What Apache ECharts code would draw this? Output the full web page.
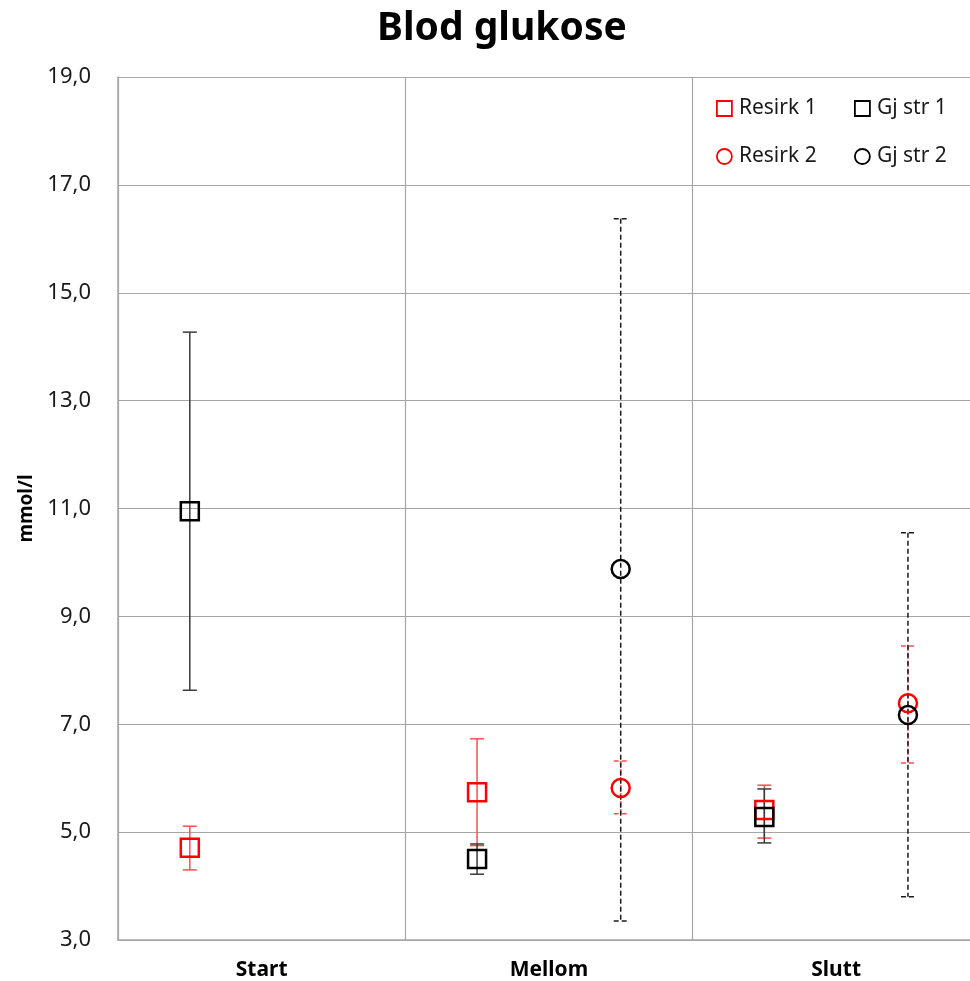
<!DOCTYPE html>
<html>
<head>
<meta charset="utf-8">
<script src="https://cdn.jsdelivr.net/npm/echarts@6/dist/echarts.min.js"></script>
<style>
html,body{margin:0;padding:0;background:#fff;}
#chart{width:970px;height:981px;}
</style>
</head>
<body>
<div id="chart"></div>
<script>
const categories = ['Start', 'Mellom', 'Slutt'];
const yTicks = [3, 5, 7, 9, 11, 13, 15, 17, 19];

const resirk1 = [4.71, 5.74, 5.41];
const resirk1Low = [4.30, 4.75, 4.89];
const resirk1High = [5.11, 6.73, 5.87];

const gjstr1 = [10.95, 4.50, 5.28];
const gjstr1Low = [7.63, 4.22, 4.80];
const gjstr1High = [14.27, 4.78, 5.80];

const resirk2 = [null, 5.82, 7.39];
const resirk2Low = [null, 5.34, 6.28];
const resirk2High = [null, 6.32, 8.45];

const gjstr2 = [null, 9.88, 7.17];
const gjstr2Low = [null, 3.35, 3.80];
const gjstr2High = [null, 16.37, 10.55];

const FONT = 'Noto Sans';
const GRID = '#a6a6a6';
// the plot area of the original is cut at the right edge of the picture
const X_VISIBLE_MAX = 2.966;

function pts(vals, off) {
  return vals.map((v, i) => [i + off, v]);
}
function errs(lo, hi, off) {
  return lo.map((l, i) => [i + off, l, hi[i]]);
}

function errSeries(name, data, color, dashed) {
  return {
    name: name,
    type: 'custom',
    xAxisIndex: 0,
    yAxisIndex: 0,
    data: data,
    silent: true,
    renderItem: function (params, api) {
      const lo = api.value(1), hi = api.value(2);
      if (lo == null || hi == null || isNaN(lo) || isNaN(hi)) return;
      const x = api.value(0);
      const a = api.coord([x, hi]);
      const b = api.coord([x, lo]);
      const cw = 7;
      const style = {stroke: color, lineWidth: 1.5, lineDash: dashed ? [5, 3] : null, fill: null};
      return {
        type: 'group',
        children: [
          {type: 'line', shape: {x1: a[0], y1: a[1], x2: b[0], y2: b[1]}, style: style},
          {type: 'line', shape: {x1: a[0] - cw, y1: a[1], x2: a[0] + cw, y2: a[1]}, style: style},
          {type: 'line', shape: {x1: b[0] - cw, y1: b[1], x2: b[0] + cw, y2: b[1]}, style: style}
        ]
      };
    }
  };
}

function markSeries(name, data, symbol, color) {
  return {
    name: name,
    type: 'scatter',
    xAxisIndex: 0,
    yAxisIndex: 0,
    data: data,
    symbol: symbol,
    symbolSize: 18,
    itemStyle: {color: 'transparent', borderColor: color, borderWidth: 2.5, opacity: 1},
    emphasis: {disabled: true}
  };
}

const legendText = {fontFamily: FONT, fontSize: 21, color: '#1a1a1a', padding: [0, 0, 0, 2]};

const chart = echarts.init(document.getElementById('chart'));
chart.setOption({
  animation: false,
  backgroundColor: '#ffffff',
  title: {
    text: 'Blod glukose',
    left: 372,
    top: 4,
    textStyle: {fontFamily: FONT, fontWeight: 'bold', fontSize: 39, color: '#000'}
  },
  legend: [
    {
      data: ['Resirk 1', 'Resirk 2'],
      orient: 'vertical',
      left: 711,
      top: 93,
      itemWidth: 15,
      itemHeight: 15,
      itemGap: 27,
      itemStyle: {borderWidth: 1.8},
      textStyle: legendText
    },
    {
      data: ['Gj str 1', 'Gj str 2'],
      orient: 'vertical',
      left: 849,
      top: 93,
      itemWidth: 15,
      itemHeight: 15,
      itemGap: 27,
      itemStyle: {borderWidth: 1.8},
      textStyle: legendText
    }
  ],
  grid: {left: 118, top: 77, right: 0, bottom: 41, containLabel: false},
  xAxis: [
    {
      type: 'value',
      min: 0,
      max: X_VISIBLE_MAX,
      interval: 1,
      position: 'bottom',
      axisLine: {show: true, onZero: false, lineStyle: {color: GRID, width: 1.5}},
      axisTick: {show: false},
      axisLabel: {show: false},
      splitLine: {show: true, showMaxLine: false, lineStyle: {color: GRID, width: 1.2}}
    },
    {
      type: 'value',
      min: 0,
      max: X_VISIBLE_MAX,
      interval: 0.5,
      position: 'bottom',
      axisLine: {show: false},
      axisTick: {show: false},
      splitLine: {show: false},
      axisLabel: {
        margin: 20,
        showMaxLabel: false,
        fontFamily: FONT, fontWeight: 'bold', fontSize: 21, color: '#000',
        formatter: function (v) {
          const k = Math.floor(v);
          return Math.abs(v - k - 0.5) < 1e-6 && categories[k] ? categories[k] : '';
        }
      }
    }
  ],
  yAxis: {
    type: 'value',
    min: yTicks[0],
    max: yTicks[yTicks.length - 1],
    interval: 2,
    name: 'mmol/l',
    nameLocation: 'middle',
    nameGap: 82,
    nameRotate: 90,
    nameTextStyle: {fontFamily: FONT, fontWeight: 'bold', fontSize: 19, color: '#000'},
    axisLine: {show: true, lineStyle: {color: GRID, width: 1.5}},
    axisTick: {show: false},
    axisLabel: {
      margin: 27,
      fontFamily: FONT,
      fontSize: 22,
      color: '#1a1a1a',
      formatter: v => v.toFixed(1).replace('.', ',')
    },
    splitLine: {show: true, lineStyle: {color: GRID, width: 1.2}}
  },
  series: [
    errSeries('Resirk 1 err', errs(resirk1Low, resirk1High, 0.25), '#ff4d4d', false),
    markSeries('Resirk 1', pts(resirk1, 0.25), 'rect', '#ff0000'),
    errSeries('Gj str 1 err', errs(gjstr1Low, gjstr1High, 0.25), '#3a3a3a', false),
    markSeries('Gj str 1', pts(gjstr1, 0.25), 'rect', '#000000'),
    errSeries('Resirk 2 err', errs(resirk2Low, resirk2High, 0.75), '#ff4d4d', true),
    markSeries('Resirk 2', pts(resirk2, 0.75), 'circle', '#ff0000'),
    errSeries('Gj str 2 err', errs(gjstr2Low, gjstr2High, 0.75), '#1a1a1a', true),
    markSeries('Gj str 2', pts(gjstr2, 0.75), 'circle', '#000000')
  ]
});
</script>
</body>
</html>
